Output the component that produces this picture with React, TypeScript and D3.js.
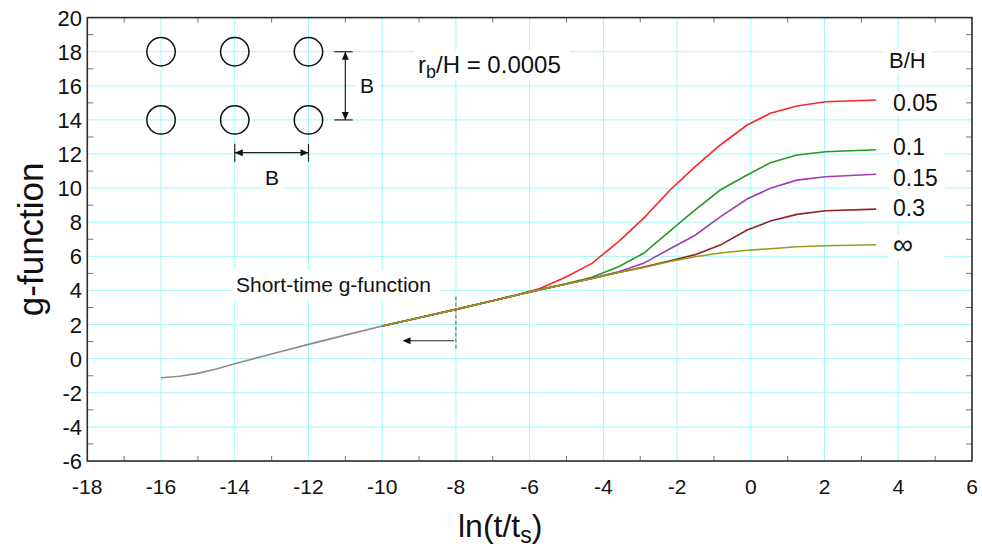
import React from "react";
import * as d3 from "d3";

// ln(t/ts) sample points for the long-time curves
const lnT = [-10, -9, -8, -7, -6.4, -5.72, -5, -4.31, -3.59, -2.91, -2.19, -1.51, -0.83, -0.1, 0.53, 1.25, 2.02, 3.4];

const g005 = [1.92, 2.4, 2.89, 3.4, 3.72, 4.12, 4.8, 5.59, 6.86, 8.23, 9.89, 11.26, 12.53, 13.7, 14.39, 14.82, 15.07, 15.17];
const g01 = [1.92, 2.4, 2.89, 3.4, 3.71, 4.05, 4.4, 4.78, 5.39, 6.18, 7.5, 8.72, 9.89, 10.77, 11.49, 11.94, 12.13, 12.25];
const g015 = [1.92, 2.4, 2.89, 3.4, 3.71, 4.05, 4.38, 4.71, 5.1, 5.59, 6.45, 7.24, 8.32, 9.36, 9.99, 10.47, 10.67, 10.81];
const g03 = [1.92, 2.4, 2.89, 3.4, 3.71, 4.05, 4.38, 4.7, 5.05, 5.37, 5.74, 6.1, 6.66, 7.54, 8.07, 8.46, 8.67, 8.77];
const gInf = [1.92, 2.4, 2.89, 3.4, 3.71, 4.05, 4.38, 4.7, 5.05, 5.35, 5.7, 5.98, 6.2, 6.36, 6.45, 6.56, 6.62, 6.68];

// short-time g-function
const shortT = [-16, -15.5, -15, -14.5, -14, -13, -12, -11, -10];
const shortG = [-1.12, -1.03, -0.86, -0.6, -0.3, 0.28, 0.84, 1.38, 1.92];

const seriesNames = ["0.05", "0.1", "0.15", "0.3", "∞"];
const seriesValues = [g005, g01, g015, g03, gInf];
const seriesColors = ["#ff2626", "#2a972a", "#a23cb4", "#8e2424", "#9a9a1c"];
const labelBaselines = [111, 155, 186, 216, 254];

const xTicks = d3.range(-18, 7, 2);
const yTicks = d3.range(-6, 21, 2);

const margin = { top: 17.6, right: 10, bottom: 89, left: 87.3 };
const W = 982;
const H = 550;
const FONT = "'Liberation Sans', Arial, sans-serif";

export default function App() {
  const x = d3.scaleLinear().domain([-18, 6]).range([margin.left, W - margin.right]);
  const y = d3.scaleLinear().domain([-6, 20]).range([H - margin.bottom, margin.top]);
  const [x0, x1] = x.range();
  const [y0, y1] = [y(20), y(-6)];

  const line = d3
    .line<[number, number]>()
    .x((d) => x(d[0]))
    .y((d) => y(d[1]));

  const minorX = d3.range(-17, 6, 2);
  const minorY = d3.range(-5, 20, 2);

  // white box behind a label
  const box = (bx: number, by: number, bw: number, bh: number, key: string) => (
    <rect key={key} x={bx} y={by} width={bw} height={bh} fill="#fff" />
  );

  const arrowHead = (px: number, py: number, dir: "l" | "r" | "u" | "d", key: string) => {
    const s = 8, w = 3.5;
    let pts = "";
    if (dir === "l") pts = `${px},${py} ${px + s},${py - w} ${px + s},${py + w}`;
    if (dir === "r") pts = `${px},${py} ${px - s},${py - w} ${px - s},${py + w}`;
    if (dir === "u") pts = `${px},${py} ${px - w},${py + s} ${px + w},${py + s}`;
    if (dir === "d") pts = `${px},${py} ${px - w},${py - s} ${px + w},${py - s}`;
    return <polygon key={key} points={pts} fill="#111" />;
  };

  return (
    <svg width={W} height={H} style={{ position: "absolute", left: 0, top: 0, fontFamily: FONT }}>
      <rect width={W} height={H} fill="#fff" />

      {/* grid */}
      {xTicks.slice(1, -1).map((t) => (
        <line key={"gx" + t} x1={x(t)} x2={x(t)} y1={y0} y2={y1} stroke="#a6f6f6" strokeWidth={1} />
      ))}
      {yTicks.slice(1, -1).map((t) => (
        <line key={"gy" + t} x1={x0} x2={x1} y1={y(t)} y2={y(t)} stroke="#a6f6f6" strokeWidth={1} />
      ))}

      {/* label backgrounds (break the grid) */}
      {box(414, 50, 156, 30, "b1")}
      {box(357, 74, 22, 24, "b2")}
      {box(263, 166, 21, 24, "b3")}
      {box(231, 270, 210, 30, "b4")}
      {box(883, 48, 50, 26, "b5")}
      {seriesNames.map((n, i) => box(889, labelBaselines[i] - 20, 56, 25, "lb" + i))}

      {/* minor ticks */}
      {minorX.map((t) => (
        <g key={"mx" + t} stroke="#777" strokeWidth={1}>
          <line x1={x(t)} x2={x(t)} y1={y1} y2={y1 - 5} />
          <line x1={x(t)} x2={x(t)} y1={y0} y2={y0 + 5} />
        </g>
      ))}
      {minorY.map((t) => (
        <g key={"my" + t} stroke="#777" strokeWidth={1}>
          <line x1={x0} x2={x0 + 6} y1={y(t)} y2={y(t)} />
          <line x1={x1} x2={x1 - 6} y1={y(t)} y2={y(t)} />
        </g>
      ))}

      {/* borehole diagram */}
      {[18, 14].map((gv) =>
        [-16, -14, -12].map((tv) => (
          <circle key={`c${gv}${tv}`} cx={x(tv)} cy={y(gv)} r={14.2} fill="none" stroke="#111" strokeWidth={1.5} />
        ))
      )}
      <g stroke="#222" strokeWidth={1.2}>
        <line x1={x(-11)} x2={x(-11)} y1={y(18)} y2={y(14)} />
        <line x1={x(-11.3)} x2={x(-10.8)} y1={y(18)} y2={y(18)} />
        <line x1={x(-11.3)} x2={x(-10.8)} y1={y(14)} y2={y(14)} />
        <line x1={x(-14)} x2={x(-12)} y1={y(12.08)} y2={y(12.08)} />
        <line x1={x(-14)} x2={x(-14)} y1={y(12.6)} y2={y(11.55)} />
        <line x1={x(-12)} x2={x(-12)} y1={y(12.6)} y2={y(11.55)} />
      </g>
      {arrowHead(x(-11), y(18), "u", "a1")}
      {arrowHead(x(-11), y(14), "d", "a2")}
      {arrowHead(x(-14), y(12.08), "l", "a3")}
      {arrowHead(x(-12), y(12.08), "r", "a4")}
      <text x={360} y={93} fontSize={21} fill="#111">B</text>
      <text x={265} y={185} fontSize={21} fill="#111">B</text>

      <text x={418} y={73} fontSize={24} fill="#111">
        r<tspan fontSize={18} dy={5}>b</tspan>
        <tspan dy={-5}>/H = 0.0005</tspan>
      </text>

      {/* short-time marker */}
      <line x1={x(-8)} x2={x(-8)} y1={y(3.64)} y2={y(0.54)} stroke="#4a5a6a" strokeWidth={1} strokeDasharray="4,2" />
      <line x1={x(-8.05)} x2={x(-9.3)} y1={y(1.05)} y2={y(1.05)} stroke="#222" strokeWidth={1} />
      {arrowHead(x(-9.45), y(1.05), "l", "a5")}
      <text x={236} y={292} fontSize={21} fill="#111">Short-time g-function</text>

      {/* curves */}
      <path
        d={line(shortT.map((t, i) => [t, shortG[i]]) as [number, number][]) || ""}
        fill="none"
        stroke="#8c8c8c"
        strokeWidth={1.6}
      />
      {seriesValues.map((vals, si) => (
        <path
          key={"s" + si}
          d={line(lnT.map((t, i) => [t, vals[i]]) as [number, number][]) || ""}
          fill="none"
          stroke={seriesColors[si]}
          strokeWidth={1.6}
        />
      ))}

      {/* legend labels */}
      <text x={889} y={68} fontSize={22} fill="#111">B/H</text>
      {seriesNames.map((n, i) => (
        <text key={"ln" + i} x={893} y={labelBaselines[i]} fontSize={n === "∞" ? 28 : 23} fill="#111">
          {n}
        </text>
      ))}

      {/* frame */}
      <rect x={x0} y={y0} width={x1 - x0} height={y1 - y0} fill="none" stroke="#2a2a2a" strokeWidth={1.6} />

      {/* tick labels */}
      {xTicks.map((t) => (
        <text key={"xl" + t} x={x(t)} y={494} fontSize={21} textAnchor="middle" fill="#111">
          {t}
        </text>
      ))}
      {yTicks.map((t) => (
        <text key={"yl" + t} x={82} y={y(t) + 8} fontSize={22} textAnchor="end" fill="#111">
          {t}
        </text>
      ))}

      {/* axis titles */}
      <text x={458} y={537} fontSize={32} fill="#111">
        ln(t/t<tspan fontSize={23} dy={6}>s</tspan>
        <tspan dy={-6}>)</tspan>
      </text>
      <text transform={`translate(43,${(y0 + y1) / 2}) rotate(-90)`} fontSize={35} textAnchor="middle" fill="#111">
        g-function
      </text>
    </svg>
  );
}
